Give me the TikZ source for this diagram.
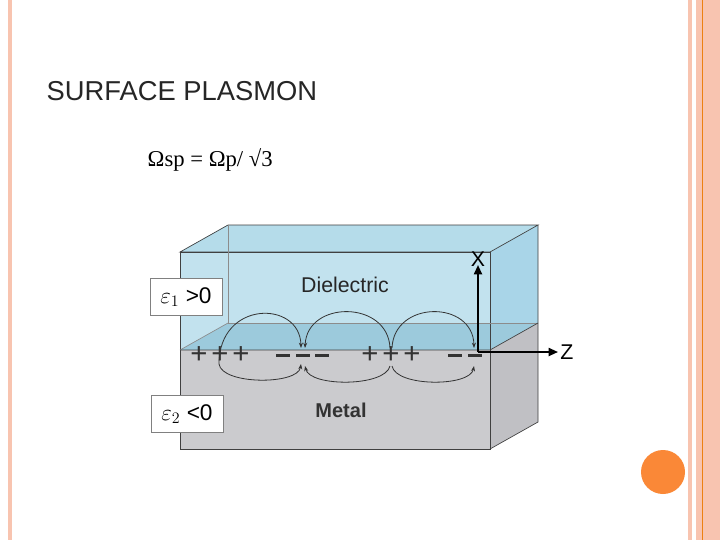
\documentclass[tikz,border=0pt]{standalone}
\usepackage{fontspec}
\setmainfont{Liberation Serif}
\newfontfamily\arial{Liberation Sans}
\usetikzlibrary{arrows.meta}
\definecolor{dfront}{HTML}{C2E2EE}
\definecolor{dtop}{HTML}{B5DCEA}
\definecolor{dside}{HTML}{8EC6DE}
\definecolor{dright}{HTML}{A9D5E8}
\definecolor{iface}{HTML}{9CCADC}
\definecolor{mfront}{HTML}{CBCBCE}
\definecolor{mside}{HTML}{C0C0C4}
\definecolor{stripe}{HTML}{F8C4B0}
\definecolor{dot}{HTML}{FA8837}
\begin{document}
\begin{tikzpicture}[x=0.75pt,y=-0.75pt,
  edge/.style={draw=black!75,line width=0.5pt},
  fld/.style={black!80,line width=0.6pt,-{Stealth[length=4pt]}},
  plus/.style={font=\arial\fontsize{22}{22}\selectfont,inner sep=0pt,text=black!80},
  eps/.style={draw=black!50,fill=white,minimum width=54pt,minimum height=28pt,font=\arial\fontsize{17}{17}\selectfont}]
\useasboundingbox (0,0) rectangle (720,540);
\fill[white] (0,0) rectangle (720,540);
% slide stripes
\fill[stripe] (8,0) rectangle (12,540);
\fill[stripe] (688,0) rectangle (692,540);
\fill[stripe] (696,0) rectangle (720,540);
\draw[orange!70!brown,line width=0.6pt] (702,0) -- (702,540);
\fill[dot] (663,472) circle (22);
\node[anchor=west,font=\arial\fontsize{20.5}{20}\selectfont,text=black!85] (title) at (42,91) {SURFACE PLASMON};
\node[anchor=west,font=\fontsize{17}{17}\selectfont] (form) at (143,160) {Ωsp = Ωp/ √3};
% box
\fill[dside] (180,252) -- (228,225) -- (228,323) -- (180,350) -- cycle;
\fill[dtop] (180,252) -- (228,225) -- (538,225) -- (490,252) -- cycle;
\fill[dfront] (180,252) rectangle (490,350);
\fill[dright] (490,252) -- (538,225) -- (538,323) -- (490,350) -- cycle;
\fill[iface] (180,350) -- (228,323) -- (538,323) -- (490,350) -- cycle;
\fill[mfront] (180,350) rectangle (490,449);
\fill[mside] (490,350) -- (538,323) -- (538,422) -- (490,449) -- cycle;
\draw[edge] (180,252) -- (228,225) -- (538,225) -- (490,252) -- cycle;
\draw[edge] (180,252) rectangle (490,449);
\draw[edge] (538,225) -- (538,422) -- (490,449);
\draw[edge,black!45] (228,225) -- (228,323) -- (538,323);
\draw[edge,black!45] (180,350) -- (228,323);
\draw[edge] (180,350) -- (490,350) -- (538,323);
% labels
\node[eps] (e1) at (186,297) {$\varepsilon_{1}$ >0};
\node[eps] (e2) at (187,414) {$\varepsilon_{2}$ <0};
\node[font=\arial\fontsize{16}{16}\selectfont,text=black!85] (diel) at (345,285) {Dielectric};
\node[font=\arial\bfseries\fontsize{15}{15}\selectfont,text=black!80] (met) at (341,410) {Metal};
% charges
\foreach \x in {199,220,241,370,391,412}
  \node[plus] at (\x,355) {+};
\foreach \x in {283,303,322,455,475}
  \fill[black!80] (\x-7,354) rectangle (\x+7,357);
% field lines
\draw[fld] (219,364) .. controls (219,300) and (300,300) .. (301,348);
\draw[fld] (390,348) .. controls (388,300) and (307,300) .. (305,348);
\draw[fld] (392,348) .. controls (394,300) and (473,300) .. (474,348);
\draw[fld] (219,364) .. controls (222,385) and (298,385) .. (301,364);
\draw[fld] (390,366) .. controls (385,387) and (310,387) .. (305,366);
\draw[fld] (392,366) .. controls (396,387) and (470,387) .. (474,366);
% axes
\coordinate (o) at (478,352);
\coordinate (xe) at (478,265);
\coordinate (ze) at (558,352);
\draw[line width=1.4pt,-{Triangle[length=7pt,width=6pt]}] (o) -- (xe);
\draw[line width=1.4pt,-{Triangle[length=7pt,width=6pt]}] (o) -- (ze);
\node[font=\arial\fontsize{16}{16}\selectfont,inner sep=0pt] (xl) at (478,259) {X};
\node[font=\arial\fontsize{16}{16}\selectfont,inner sep=0pt] (zl) at (567,352) {Z};
\end{tikzpicture}
\end{document}
